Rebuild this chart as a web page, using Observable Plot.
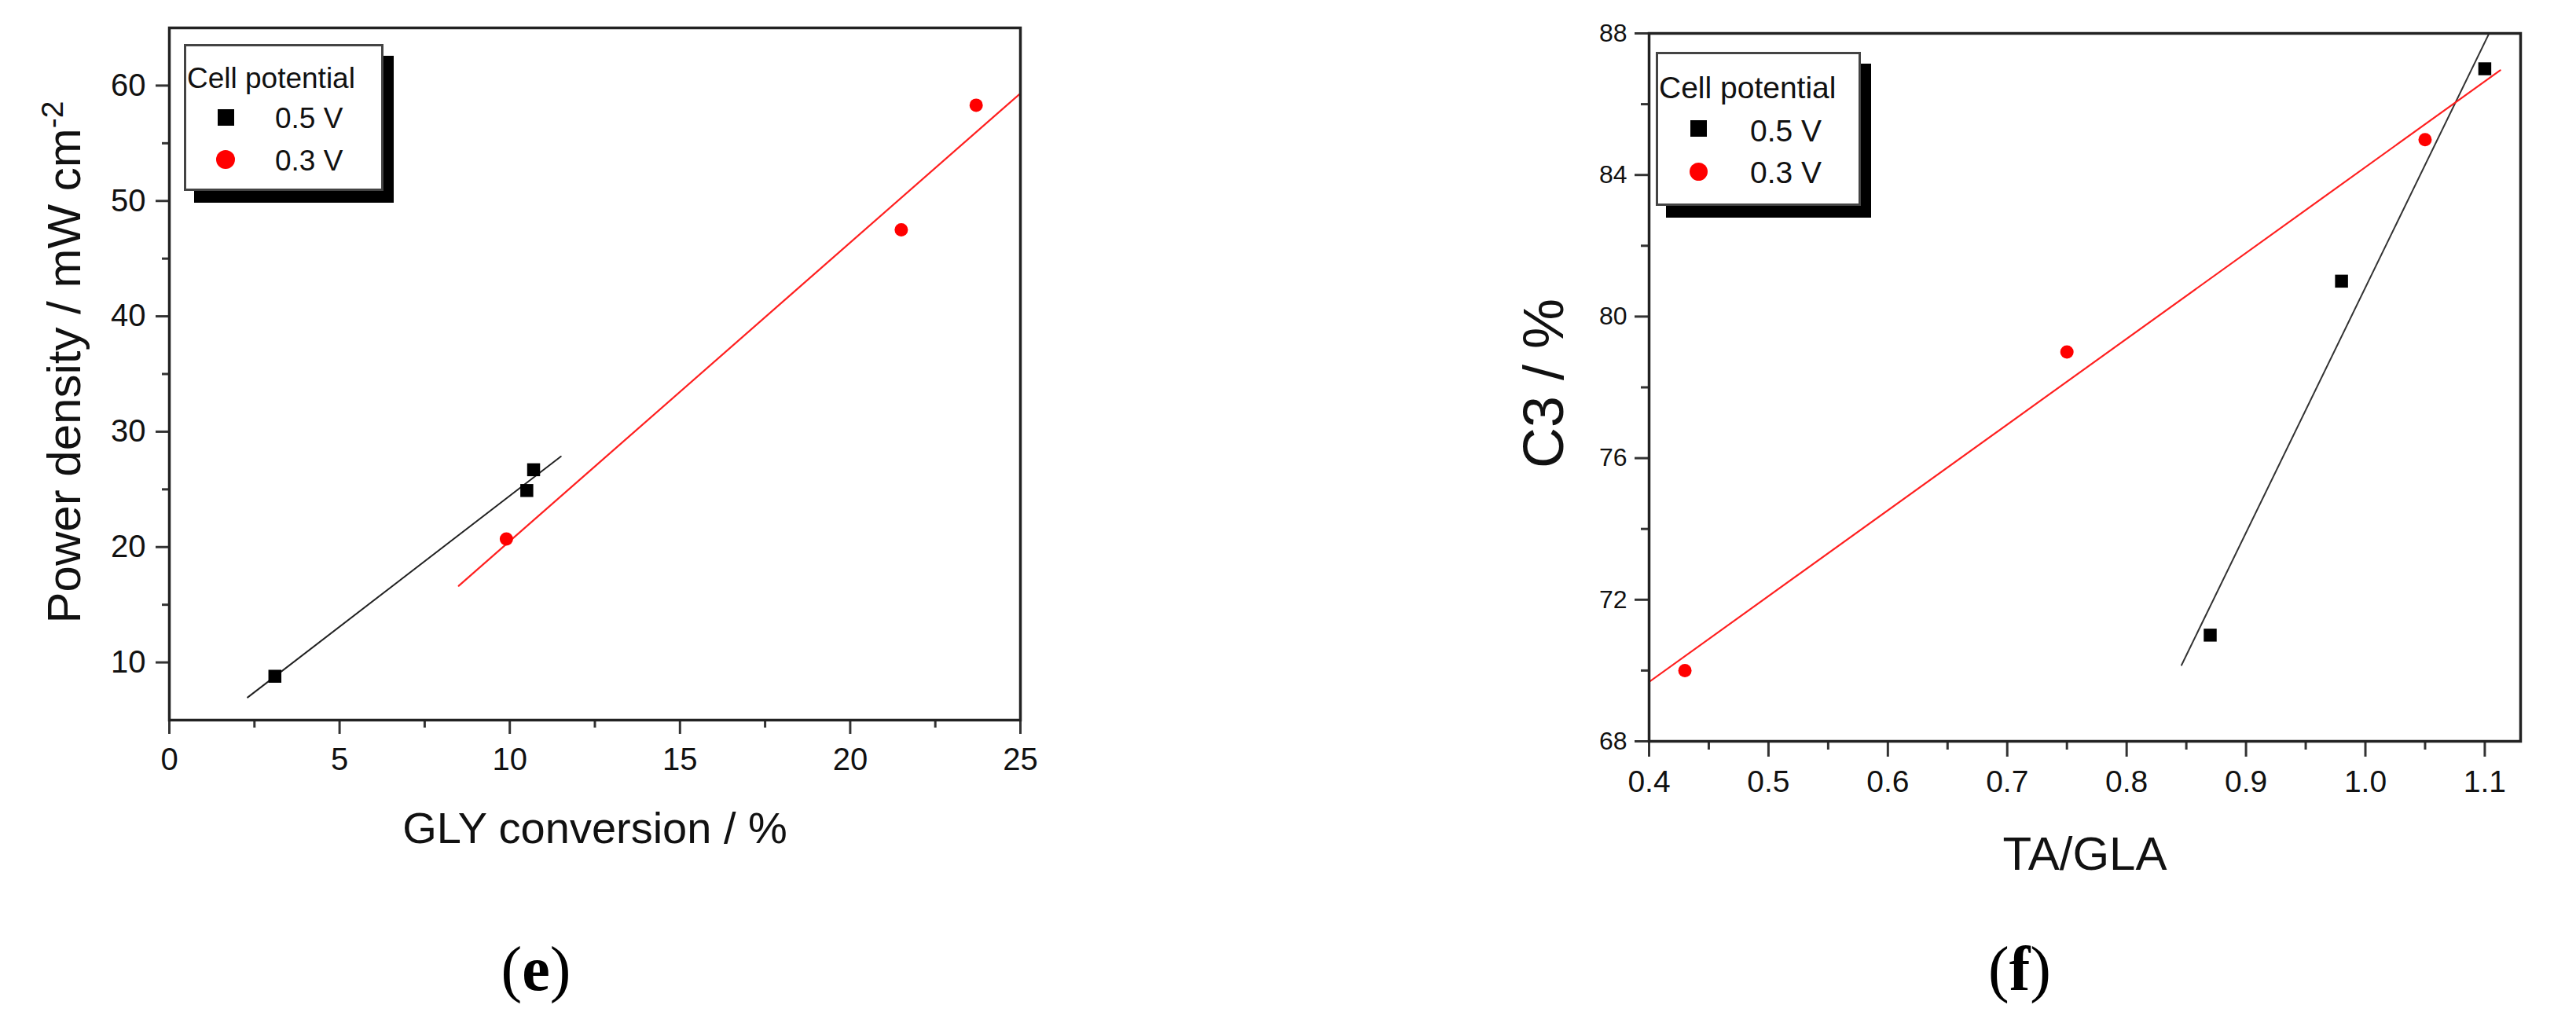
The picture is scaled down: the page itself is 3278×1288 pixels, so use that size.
<!DOCTYPE html>
<html><head><meta charset="utf-8">
<script src="https://cdn.jsdelivr.net/npm/d3@7"></script>
<script src="https://cdn.jsdelivr.net/npm/@observablehq/plot@0.6"></script>
<style>
html,body{margin:0;padding:0;background:#fff;}
#root{position:relative;width:3278px;height:1288px;overflow:hidden;font-family:"Liberation Sans",Arial,sans-serif;color:#111;}
.panel{position:absolute;top:0;}
.legend{position:absolute;box-sizing:border-box;border:3px solid #444;background:#fff;box-shadow:13px 15px 0 0 #000;}
.legend div{position:absolute;white-space:nowrap;line-height:1;}
.sub{position:absolute;font-family:"Liberation Serif","Times New Roman",serif;font-size:80px;line-height:1;transform:translate(-50%,-50%);color:#000;}
.sub b{font-weight:bold;}
</style></head><body><div id="root"></div>
<script>
// ---------- data ----------
const seriesNames = ["0.5 V", "0.3 V"];
const legendTitle = "Cell potential";
const panelLetters = ["e", "f"];

// panel (e)
const eTitleX = "GLY conversion / %";
const eTitleY = "Power density / mW cm";
const eTitleYSup = "-2";
const eX05 = [3.1, 10.5, 10.7];
const eY05 = [8.8, 24.9, 26.7];
const eX03 = [9.9, 21.5, 23.7];
const eY03 = [20.7, 47.5, 58.3];
const eFitRange05 = [2.3, 11.5];
const eFitRange03 = [8.5, 25];
const eXDomain = [0, 25];
const eYDomain = [5, 65];
const eXTicks = [0, 5, 10, 15, 20, 25];
const eXMinor = [2.5, 7.5, 12.5, 17.5, 22.5];
const eYTicks = [10, 20, 30, 40, 50, 60];
const eYMinor = [15, 25, 35, 45, 55];

// panel (f)
const fTitleX = "TA/GLA";
const fTitleY = "C3 / %";
const fX05 = [0.87, 0.98, 1.10];
const fY05 = [71, 81, 87];
const fX03 = [0.43, 0.75, 1.05];
const fY03 = [70, 79, 85];
const fFitRange05 = [0.846, 1.13];
const fFitRange03 = [0.4, 1.113];
const fXDomain = [0.4, 1.13];
const fYDomain = [68, 88];
const fXTicks = [0.4, 0.5, 0.6, 0.7, 0.8, 0.9, 1.0, 1.1];
const fXMinor = [0.45, 0.55, 0.65, 0.75, 0.85, 0.95, 1.05];
const fYTicks = [68, 72, 76, 80, 84, 88];
const fYMinor = [70, 74, 78, 82, 86];

// ---------- helpers ----------
const FONT = '"Liberation Sans", Arial, sans-serif';
const toPts = (xs, ys) => xs.map((x, i) => ({x, y: ys[i]}));
function fitLine(xs, ys, range) {
  const mx = d3.mean(xs), my = d3.mean(ys);
  const b = d3.sum(xs, (x, i) => (x - mx) * (ys[i] - my)) / d3.sum(xs, x => (x - mx) ** 2);
  const a = my - b * mx;
  return range.map(x => ({x, y: a + b * x}));
}
const root = document.getElementById("root");

function place(node, left) {
  const wrap = document.createElement("div");
  wrap.className = "panel";
  wrap.style.left = left + "px";
  wrap.appendChild(node);
  root.appendChild(wrap);
}

function legend(L) {
  const box = document.createElement("div");
  box.className = "legend";
  Object.assign(box.style, {left: L.left + "px", top: L.top + "px", width: L.w + "px", height: L.h + "px"});
  const F = L.font;
  const bw = 3;
  const t = document.createElement("div");
  t.textContent = legendTitle;
  Object.assign(t.style, {left: (L.titleX - bw) + "px", top: (L.titleBase - 0.8465 * F - bw) + "px", fontSize: F + "px"});
  box.appendChild(t);
  seriesNames.forEach((name, i) => {
    const m = document.createElement("div");
    const s = i === 0 ? L.sq : L.ci;
    Object.assign(m.style, {
      left: (L.markX - s / 2 - bw) + "px", top: (L.rowY[i] - s / 2 - bw) + "px",
      width: s + "px", height: s + "px",
      background: i === 0 ? "#000" : "#ff0000",
      borderRadius: i === 0 ? "0" : "50%"
    });
    box.appendChild(m);
    const tx = document.createElement("div");
    tx.textContent = name;
    Object.assign(tx.style, {left: (L.textX - bw) + "px", top: (L.textBase[i] - 0.8465 * F - bw) + "px", fontSize: F + "px"});
    box.appendChild(tx);
  });
  root.appendChild(box);
}

function subLabel(letter, x, y) {
  const d = document.createElement("div");
  d.className = "sub";
  d.innerHTML = "(<b>" + letter + "</b>)";
  d.style.left = x + "px";
  d.style.top = y + "px";
  root.appendChild(d);
}

const axisStyle = {stroke: "#333", strokeWidth: 3, fill: "#111", label: null};

// ---------- panel (e) ----------
const pe = Plot.plot({
  width: 1400, height: 1288,
  marginLeft: 215, marginRight: 102, marginTop: 35, marginBottom: 372,
  x: {domain: eXDomain}, y: {domain: eYDomain},
  style: {fontFamily: FONT, background: "transparent", color: "#111", overflow: "visible"},
  marks: [
    Plot.axisX({...axisStyle, ticks: eXTicks, tickSize: 18, tickPadding: 17, fontSize: 40, tickFormat: d3.format("d")}),
    Plot.axisX({...axisStyle, ticks: eXMinor, tickSize: 10, fill: "none"}),
    Plot.axisY({...axisStyle, ticks: eYTicks, tickSize: 17, tickPadding: 13, fontSize: 40, tickFormat: d3.format("d")}),
    Plot.axisY({...axisStyle, ticks: eYMinor, tickSize: 9, fill: "none"}),
    Plot.line(fitLine(eX05, eY05, eFitRange05), {x: "x", y: "y", stroke: "#222", strokeWidth: 2}),
    Plot.line(fitLine(eX03, eY03, eFitRange03), {x: "x", y: "y", stroke: "#ff2020", strokeWidth: 2.2, clip: "frame"}),
    Plot.dot(toPts(eX05, eY05), {x: "x", y: "y", symbol: "square", r: 9.3, fill: "#000", stroke: "none"}),
    Plot.dot(toPts(eX03, eY03), {x: "x", y: "y", symbol: "circle", r: 8.5, fill: "#ff0000", stroke: "none"}),
    Plot.frame({stroke: "#222", strokeWidth: 3.5}),
    Plot.text([eTitleX], {text: d => d, frameAnchor: "bottom", dy: 156, lineAnchor: "bottom", textAnchor: "middle", fontSize: 56, fill: "#111"}),
    Plot.text([eTitleY], {text: d => d, frameAnchor: "left", rotate: -90, dx: -114, dy: -15, lineAnchor: "bottom", textAnchor: "middle", fontSize: 60, fill: "#111"})
  ]
});
// superscript on y title
d3.select(pe).selectAll("text").filter(function() { return this.textContent === eTitleY; })
  .append("tspan").attr("dy", "-0.55em").attr("font-size", "0.65em").text(eTitleYSup);
place(pe, 0);

// ---------- panel (f) ----------
const pf = Plot.plot({
  width: 1378, height: 1288,
  marginLeft: 198, marginRight: 71, marginTop: 42, marginBottom: 345,
  x: {domain: fXDomain}, y: {domain: fYDomain},
  style: {fontFamily: FONT, background: "transparent", color: "#111", overflow: "visible"},
  marks: [
    Plot.axisX({...axisStyle, ticks: fXTicks, tickSize: 20, tickPadding: 17, fontSize: 39, tickFormat: d3.format(".1f")}),
    Plot.axisX({...axisStyle, ticks: fXMinor, tickSize: 11, fill: "none"}),
    Plot.axisY({...axisStyle, ticks: fYTicks, tickSize: 18, tickPadding: 10, fontSize: 32, tickFormat: d3.format("d")}),
    Plot.axisY({...axisStyle, ticks: fYMinor, tickSize: 10, fill: "none"}),
    Plot.line(fitLine(fX05, fY05, fFitRange05), {x: "x", y: "y", stroke: "#333", strokeWidth: 2, clip: "frame"}),
    Plot.line(fitLine(fX03, fY03, fFitRange03), {x: "x", y: "y", stroke: "#ff2020", strokeWidth: 2.2, clip: "frame"}),
    Plot.dot(toPts(fX05, fY05), {x: "x", y: "y", symbol: "square", r: 9.3, fill: "#000", stroke: "none"}),
    Plot.dot(toPts(fX03, fY03), {x: "x", y: "y", symbol: "circle", r: 8.5, fill: "#ff0000", stroke: "none"}),
    Plot.frame({stroke: "#222", strokeWidth: 3.5}),
    Plot.text([fTitleX], {text: d => d, frameAnchor: "bottom", dy: 163, lineAnchor: "bottom", textAnchor: "middle", fontSize: 60, fill: "#111"}),
    Plot.text([fTitleY], {text: d => d, frameAnchor: "left", rotate: -90, dx: -110, dy: -5, lineAnchor: "bottom", textAnchor: "middle", fontSize: 72, fill: "#111"})
  ]
});
place(pf, 1900);

// ---------- legends ----------
legend({left: 234, top: 56, w: 254, h: 187, font: 37, titleX: 4, titleBase: 56,
        markX: 53, rowY: [93, 147], sq: 21, ci: 24, textX: 116, textBase: [107, 161]});
legend({left: 2107, top: 66, w: 261, h: 196, font: 39, titleX: 4, titleBase: 59,
        markX: 54, rowY: [97, 152], sq: 21, ci: 23, textX: 120, textBase: [114, 167]});

// ---------- sub-figure labels ----------
subLabel(panelLetters[0], 682, 1233);
subLabel(panelLetters[1], 2570, 1233);
</script>
</body></html>
